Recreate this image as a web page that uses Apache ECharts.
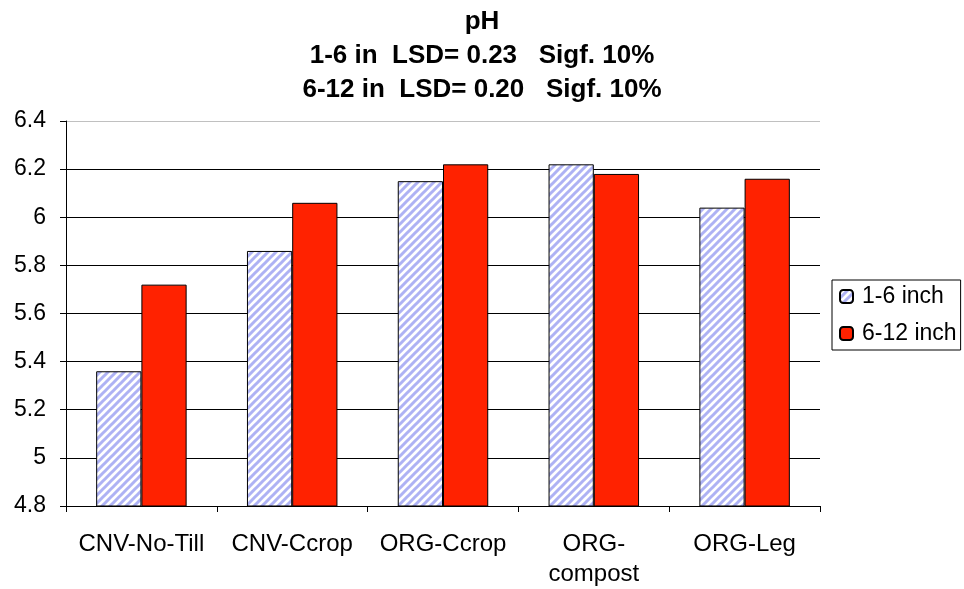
<!DOCTYPE html>
<html><head><meta charset="utf-8">
<script src="https://cdn.jsdelivr.net/npm/echarts@6/dist/echarts.min.js"></script>
<style>html,body{margin:0;padding:0;background:#fff}#c{width:964px;height:589px}</style>
</head><body><div id="c"></div>
<script>
const categories = ['CNV-No-Till', 'CNV-Ccrop', 'ORG-Ccrop', 'ORG-\ncompost', 'ORG-Leg'];
const shallow = [5.36, 5.86, 6.15, 6.22, 6.04];
const deep = [5.72, 6.06, 6.22, 6.18, 6.16];
const seriesNames = ['1-6 inch', '6-12 inch'];
const titleLines = ['pH', '1-6 in  LSD= 0.23   Sigf. 10%', '6-12 in  LSD= 0.20   Sigf. 10%'];

function stripes() {
  const c = document.createElement('canvas');
  c.width = 8; c.height = 8;
  const g = c.getContext('2d');
  g.fillStyle = '#ffffff'; g.fillRect(0, 0, 8, 8);
  g.strokeStyle = '#aeb2f4'; g.lineWidth = 3;
  g.beginPath();
  g.moveTo(-2, 10); g.lineTo(10, -2);
  g.moveTo(-6, 6); g.lineTo(6, -6);
  g.moveTo(2, 14); g.lineTo(14, 2);
  g.stroke();
  return c;
}

const chart = echarts.init(document.getElementById('c'));
const font = 'Liberation Sans, Arial, sans-serif';
const gridColors = ['#000','#000','#000','#000','#000','#000','#000','#000','#c0c0c0'];
chart.setOption({
  animation: false,
  title: {
    text: titleLines.join('\n'), left: 'center', top: 0,
    textStyle: { fontFamily: font, fontSize: 26, fontWeight: 'bold', color: '#000', lineHeight: 34 }
  },
  legend: {
    orient: 'vertical', left: 832, top: 280, padding: [5, 4, 5, 7],
    borderColor: '#000', borderWidth: 1, borderRadius: 0,
    itemWidth: 13, itemHeight: 13, itemGap: 14,
    textStyle: { fontFamily: font, fontSize: 23, color: '#000', padding: [0, 0, 0, 4] },
    data: seriesNames
  },
  grid: { left: 66, right: 144, top: 121, bottom: 82 },
  xAxis: {
    type: 'category', data: categories,
    axisLine: { lineStyle: { color: '#000', width: 1 } },
    axisTick: { show: true, length: 6, lineStyle: { color: '#000' } },
    axisLabel: { fontFamily: font, fontSize: 24, color: '#000', margin: 23, lineHeight: 30, interval: 0 }
  },
  yAxis: {
    type: 'value', min: 4.8, max: 6.4, interval: 0.2,
    axisLine: { show: true, lineStyle: { color: '#000' } },
    axisTick: { show: true, length: 6, lineStyle: { color: '#000' } },
    axisLabel: { fontFamily: font, fontSize: 23, color: '#000', margin: 20,
      formatter: v => String(parseFloat(v.toFixed(1))) },
    splitLine: { show: true, lineStyle: { color: gridColors, width: 1 } }
  },
  series: [
    { name: seriesNames[0], type: 'bar', data: shallow, barGap: '0%', barCategoryGap: '40%',
      itemStyle: { color: { image: stripes(), repeat: 'repeat' }, borderColor: '#000', borderWidth: 1 } },
    { name: seriesNames[1], type: 'bar', data: deep,
      itemStyle: { color: '#ff2200', borderColor: '#000', borderWidth: 1 } }
  ]
});
</script></body></html>
